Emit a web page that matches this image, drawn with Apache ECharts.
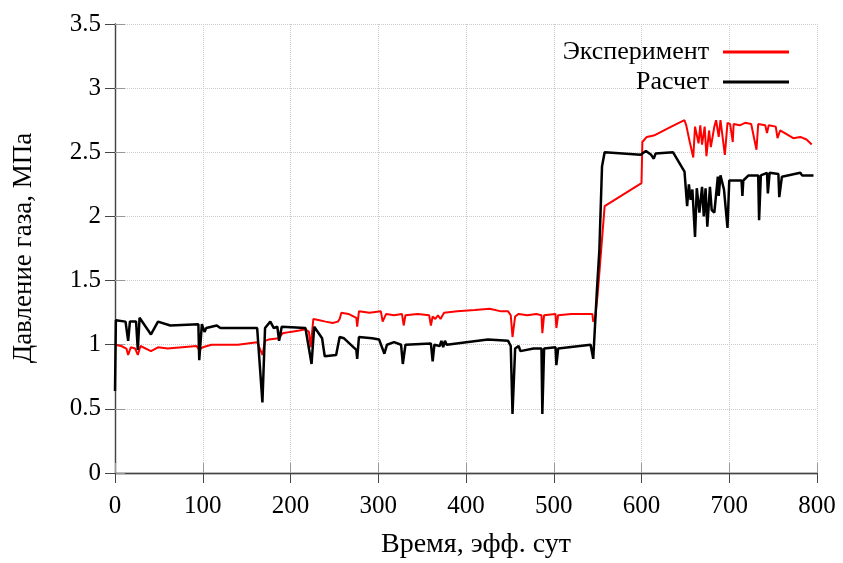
<!DOCTYPE html>
<html>
<head>
<meta charset="utf-8">
<script src="https://cdn.jsdelivr.net/npm/echarts@6/dist/echarts.min.js"></script>
<style>
  html, body { margin: 0; padding: 0; background: #fff; }
  #chart { width: 843px; height: 563px; }
</style>
</head>
<body>
<div id="chart"></div>
<script>
// Эксперимент (red)
const expDays = [0, 7, 13, 15, 18, 23, 26, 29, 41, 49, 60, 93, 96, 100, 110, 140, 162, 168, 171, 175,
  187, 191, 200, 210, 217, 221, 223, 226, 233, 240, 248, 254, 256, 258, 266, 275, 276, 278, 290, 303,
  305, 309, 318, 327, 329, 331, 345, 358, 360, 362, 365, 368, 371, 375, 390, 410, 427, 440, 448, 451,
  453, 456, 460, 470, 480, 486, 487, 489, 502, 503, 505, 520, 535, 544, 545, 547, 550, 558, 600, 601,
  606, 614, 634, 649, 651, 655, 659, 661, 665, 667, 669, 672, 674, 677, 679, 683, 685, 688, 690, 695,
  698, 701, 704, 705, 712, 718, 725, 731, 733, 741, 743, 745, 753, 755, 758, 773, 781, 788, 794]
const expValues = [1.00, 0.99, 0.97, 0.92, 0.98, 0.97, 0.92, 0.99, 0.95, 0.98, 0.97, 0.99, 0.96, 0.98, 1.00, 1.00, 1.02, 0.92, 1.03, 1.04,
  1.05, 1.09, 1.10, 1.11, 1.12, 1.10, 0.98, 1.20, 1.19, 1.18, 1.17, 1.18, 1.20, 1.25, 1.24, 1.21, 1.14, 1.26, 1.25, 1.26,
  1.18, 1.24, 1.23, 1.24, 1.15, 1.23, 1.24, 1.23, 1.15, 1.22, 1.20, 1.23, 1.20, 1.25, 1.26, 1.27, 1.28, 1.26, 1.26, 1.23,
  1.06, 1.22, 1.24, 1.23, 1.24, 1.23, 1.09, 1.23, 1.24, 1.13, 1.23, 1.24, 1.24, 1.24, 1.18, 1.20, 1.39, 2.08, 2.26, 2.58,
  2.62, 2.63, 2.70, 2.75, 2.71, 2.58, 2.46, 2.70, 2.57, 2.71, 2.56, 2.70, 2.47, 2.67, 2.54, 2.70, 2.75, 2.62, 2.75, 2.48,
  2.73, 2.72, 2.58, 2.72, 2.71, 2.73, 2.72, 2.52, 2.72, 2.71, 2.65, 2.71, 2.70, 2.61, 2.67, 2.61, 2.62, 2.60, 2.56]

// Расчет (black)
const calcDays = [0, 1, 12, 15, 17, 24, 26, 28, 41, 49, 63, 95, 96, 99, 102, 104, 116, 120, 162, 168,
  171, 177, 181, 185, 187, 190, 217, 224, 227, 236, 239, 252, 256, 261, 275, 276, 278, 293, 301, 307,
  310, 318, 326, 328, 331, 360, 362, 364, 370, 372, 374, 376, 378, 425, 448, 451, 453, 456, 460, 462,
  477, 486, 487, 489, 502, 503, 505, 542, 545, 547, 549, 552, 555, 558, 599, 605, 611, 614, 616, 636,
  649, 652, 654, 656, 658, 661, 663, 666, 669, 671, 673, 675, 678, 680, 683, 687, 688, 690, 694, 698,
  700, 714, 715, 716, 722, 733, 734, 736, 743, 744, 746, 756, 757, 760, 781, 783, 796]
const calcValues = [0.64, 1.19, 1.18, 1.03, 1.18, 1.18, 0.96, 1.21, 1.08, 1.18, 1.15, 1.16, 0.88, 1.16, 1.10, 1.13, 1.15, 1.13, 1.13, 0.55,
  1.13, 1.18, 1.13, 1.14, 1.03, 1.14, 1.13, 0.85, 1.14, 1.05, 0.91, 0.92, 1.06, 1.05, 0.96, 0.89, 1.06, 1.05, 1.04, 0.93,
  1.00, 1.02, 1.00, 0.85, 1.00, 1.01, 0.87, 1.00, 0.99, 1.03, 0.98, 1.03, 1.00, 1.04, 1.03, 0.99, 0.46, 0.97, 0.99, 0.95,
  0.97, 0.97, 0.46, 0.97, 0.98, 0.84, 0.97, 1.00, 0.89, 0.90, 1.40, 1.74, 2.39, 2.50, 2.48, 2.51, 2.48, 2.45, 2.49, 2.50,
  2.35, 2.08, 2.25, 2.13, 2.21, 1.84, 2.22, 2.03, 2.23, 2.00, 2.22, 1.92, 2.23, 2.05, 2.03, 2.31, 2.16, 2.32, 2.21, 1.91,
  2.28, 2.28, 2.16, 2.28, 2.32, 2.32, 1.97, 2.32, 2.34, 2.18, 2.34, 2.33, 2.15, 2.31, 2.34, 2.32, 2.32]

const xTicks = { min: 0, max: 800, interval: 100 }
const yTicks = { min: 0, max: 3.5, interval: 0.5 }

const font = 'Liberation Serif'

function zip(xs, ys) {
  return xs.map((x, i) => [x, ys[i]])
}

const chart = echarts.init(document.getElementById('chart'))

const frameAxis = {
  type: 'value',
  axisLabel: { show: false },
  splitLine: { show: false },
  axisTick: { show: true, inside: true, length: 10, lineStyle: { color: '#444' } },
  axisLine: { show: true, lineStyle: { color: '#444', width: 1.3 } }
}

chart.setOption({
  backgroundColor: '#fff',
  animation: false,
  grid: { left: 115, right: 26, top: 24, bottom: 90 },
  legend: {
    orient: 'vertical',
    align: 'right',
    right: 49,
    top: 34,
    icon: 'rect',
    itemWidth: 66,
    itemHeight: 3,
    itemGap: 4,
    textStyle: { fontFamily: font, fontSize: 26, color: '#000', padding: [0, 9, 0, 0] },
    data: ['Эксперимент', 'Расчет']
  },
  xAxis: [{
    type: 'value',
    min: xTicks.min,
    max: xTicks.max,
    interval: xTicks.interval,
    axisLine: { show: true, lineStyle: { color: '#999', width: 1.3 } },
    axisTick: { show: true, inside: true, length: 10, lineStyle: { color: '#999' } },
    axisLabel: { fontFamily: font, fontSize: 25, color: '#000', margin: 21 },
    splitLine: { show: true, lineStyle: { color: '#ccc', type: 'dotted', width: 1 } }
  }, Object.assign({}, frameAxis, {
    position: 'top',
    min: xTicks.min,
    max: xTicks.max,
    interval: xTicks.interval
  })],
  yAxis: [{
    type: 'value',
    min: yTicks.min,
    max: yTicks.max,
    interval: yTicks.interval,
    axisLine: { show: true, lineStyle: { color: '#999', width: 1.3 } },
    axisTick: { show: true, inside: true, length: 10, lineStyle: { color: '#999' } },
    axisLabel: { fontFamily: font, fontSize: 25, color: '#000', margin: 14 },
    splitLine: { show: true, lineStyle: { color: '#ccc', type: 'dotted', width: 1 } }
  }, Object.assign({}, frameAxis, {
    position: 'right',
    min: yTicks.min,
    max: yTicks.max,
    interval: yTicks.interval
  })],
  graphic: [{
    type: 'text',
    x: 476,
    y: 545,
    style: { text: 'Время, эфф. сут', fontFamily: font, fontSize: 28, fill: '#000', textAlign: 'center', textVerticalAlign: 'middle' }
  }, {
    type: 'text',
    x: 24,
    y: 248,
    rotation: Math.PI / 2,
    style: { text: 'Давление газа, МПа', fontFamily: font, fontSize: 27, fill: '#000', textAlign: 'center', textVerticalAlign: 'middle' }
  }],
  series: [{
    name: 'Эксперимент',
    type: 'line',
    symbol: 'none',
    showSymbol: false,
    color: '#ff0000',
    lineStyle: { color: '#ff0000', width: 2 },
    data: zip(expDays, expValues)
  }, {
    name: 'Расчет',
    type: 'line',
    symbol: 'none',
    showSymbol: false,
    color: '#000',
    lineStyle: { color: '#000', width: 2.5 },
    data: zip(calcDays, calcValues)
  }]
})
</script>
</body>
</html>
